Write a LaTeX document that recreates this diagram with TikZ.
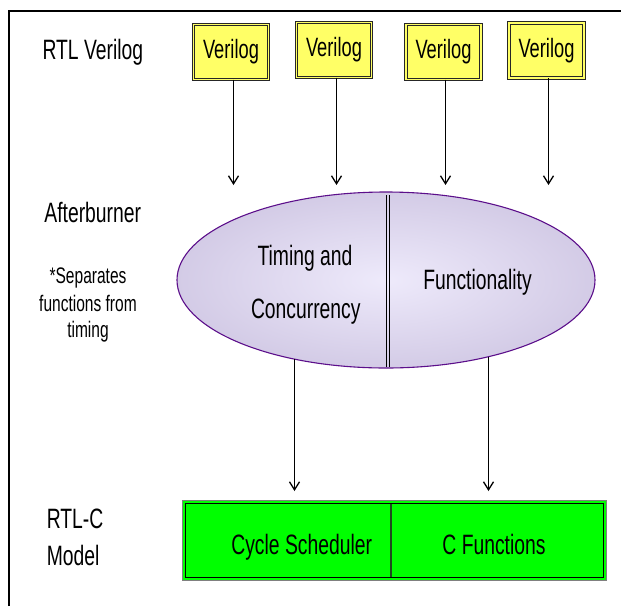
\documentclass[tikz,border=0pt]{standalone}
\usepackage{fontspec}
\setmainfont{Liberation Sans}[FakeStretch=0.69]
\usetikzlibrary{arrows.meta,shapes.geometric}
\definecolor{vyellow}{HTML}{FFFF66}
\definecolor{vgreen}{HTML}{00FF00}
\definecolor{divgreen}{HTML}{1F4A1F}
\definecolor{elborder}{HTML}{5C0F8B}
\definecolor{elin}{HTML}{EEEAFB}
\definecolor{elout}{HTML}{D3CBE6}
\begin{document}
\begin{tikzpicture}[x=1pt,y=-1pt,
  lbl/.style={inner sep=0pt, outer sep=0pt, anchor=base, font=\fontsize{28}{30}\selectfont},
  small/.style={inner sep=0pt, outer sep=0pt, anchor=base, font=\fontsize{22.5}{24}\selectfont},
  vbox/.style={draw=black!85, double=vyellow, double distance=1.6pt, line width=1pt, fill=vyellow,
    minimum width=75pt, minimum height=55pt, inner sep=0pt, outer sep=0pt, font=\fontsize{26.5}{28}\selectfont},
  arr/.style={line width=1.3pt, -{Straight Barb[length=8pt,width=10pt]}},
]
\useasboundingbox (0,0) rectangle (621,606);
% frame
\coordinate (fa) at (9,606);
\coordinate (fb) at (9,11);
\coordinate (fc) at (621,11);
\draw[line width=1.5pt] (fa) -- (fb) -- (fc);

% left labels
\node[lbl, anchor=base west] (l1) at (42.5,59.3) {RTL Verilog};
\node[lbl, anchor=base west] (l2) at (44.4,222) {Afterburner};
\node[small] (s1) at (88,283.3) {*Separates};
\node[small] (s2) at (88,311.7) {functions from};
\node[small] (s3) at (88,337) {timing};
\node[lbl, anchor=base west] (l3) at (46.8,528) {RTL-C};
\node[lbl, anchor=base west] (l4) at (46.8,565) {Model};

% Verilog boxes
\node[vbox] (v1) at (231,52) {Verilog};
\node[vbox] (v2) at (334,50) {Verilog};
\node[vbox] (v3) at (443.5,52) {Verilog};
\node[vbox] (v4) at (546.5,50.5) {Verilog};

\coordinate (t1) at (233.5,185);
\coordinate (t2) at (336.5,185);
\coordinate (t3) at (445.5,185);
\coordinate (t4) at (548.5,185);
\draw[arr] (v1.south -| t1) -- (t1);
\draw[arr] (v2.south -| t2) -- (t2);
\draw[arr] (v3.south -| t3) -- (t3);
\draw[arr] (v4.south -| t4) -- (t4);

% ellipse
\node[ellipse, draw=elborder, line width=1.1pt, inner color=elin, outer color=elout,
  minimum width=418pt, minimum height=176pt, inner sep=0pt, outer sep=0pt] (ell) at (386,280) {};
\draw[black, line width=1pt] ([xshift=0.5pt,yshift=-3pt]ell.north) -- ([xshift=0.5pt,yshift=1pt]ell.south);
\draw[black, line width=1pt] ([xshift=3.5pt,yshift=-3pt]ell.north) -- ([xshift=3.5pt,yshift=1pt]ell.south);
\node[lbl] (e1) at (305,265.7) {Timing and};
\node[lbl] (e2) at (305.8,318.3) {Concurrency};
\node[lbl] (e3) at (477.5,289.3) {Functionality};

% green model box
\node[draw=gray, line width=1pt, fill=vgreen, minimum width=424.3pt, minimum height=79.7pt,
  inner sep=0pt, outer sep=0pt] (gb) at (394.35,540.35) {};
\draw[line width=1.2pt] ([xshift=3pt,yshift=-3pt]gb.north west) rectangle ([xshift=-3pt,yshift=3pt]gb.south east);
\draw[divgreen, line width=2.2pt] ([xshift=-3.35pt,yshift=-3.5pt]gb.north) -- ([xshift=-3.35pt,yshift=3.5pt]gb.south);
\node[lbl] (g1) at (301.7,554.3) {Cycle Scheduler};
\node[lbl] (g2) at (494,554.3) {C Functions};

% lower arrows
\coordinate (b1) at (294.5,491);
\coordinate (b2) at (488.5,491);
\draw[arr] (b1 |- ell.220.65) -- (b1);
\draw[arr] (b2 |- ell.323) -- (b2);
\end{tikzpicture}
\end{document}
